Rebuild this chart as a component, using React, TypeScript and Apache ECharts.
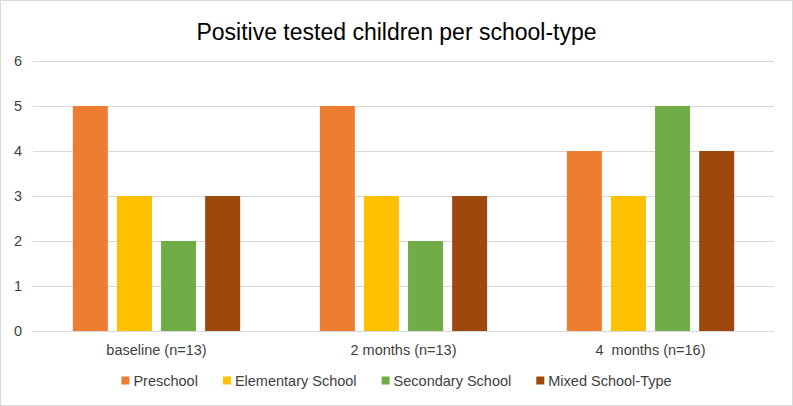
import React, { useEffect, useRef } from "react";
import * as echarts from "echarts";

const categories = ["baseline (n=13)", "2 months (n=13)", "4  months (n=16)"];
const seriesNames = ["Preschool", "Elementary School", "Secondary School", "Mixed School-Type"];
const preschool = [5, 5, 4];
const elementary = [3, 3, 3];
const secondary = [2, 2, 5];
const mixed = [3, 3, 4];
const colors = ["#ED7D31", "#FFC000", "#70AD47", "#9E480E"];

export default function App() {
  const ref = useRef<HTMLDivElement>(null);
  useEffect(() => {
    document.body.style.margin = "0";
    const chart = echarts.init(ref.current!, null, { renderer: "svg" });
    const values = [preschool, elementary, secondary, mixed];
    chart.setOption({
      animation: false,
      color: colors,
      textStyle: { fontFamily: "Liberation Sans, Arial, sans-serif" },
      title: {
        text: "Positive tested children per school-type",
        left: "center",
        top: 14,
        textStyle: { fontSize: 23, fontWeight: "normal", color: "#000" },
      },
      grid: { left: 32, right: 18, top: 60, bottom: 74, containLabel: false },
      legend: {
        bottom: 12,
        left: "center",
        itemWidth: 8,
        itemHeight: 8,
        itemGap: 25,
        icon: "rect",
        textStyle: { fontSize: 14.5, color: "#404040", padding: [0, 0, 0, -1] },
        data: seriesNames,
      },
      xAxis: {
        type: "category",
        data: categories,
        axisTick: { show: false },
        axisLine: { lineStyle: { color: "#d9d9d9", width: 1 } },
        axisLabel: { fontSize: 14.5, color: "#404040", margin: 11 },
      },
      yAxis: {
        type: "value",
        min: 0,
        max: 6,
        interval: 1,
        axisLabel: { fontSize: 14.5, color: "#404040", margin: 11 },
        splitLine: { lineStyle: { color: "#d9d9d9", width: 1 } },
        axisLine: { show: false },
        axisTick: { show: false },
      },
      series: seriesNames.map((name, i) => ({
        name,
        type: "bar",
        data: values[i],
        barWidth: 35,
        barGap: "26%",
      })),
    });
    return () => chart.dispose();
  }, []);
  return (
    <div
      ref={ref}
      style={{ width: 793, height: 406, border: "1px solid #d9d9d9", boxSizing: "border-box" }}
    />
  );
}
